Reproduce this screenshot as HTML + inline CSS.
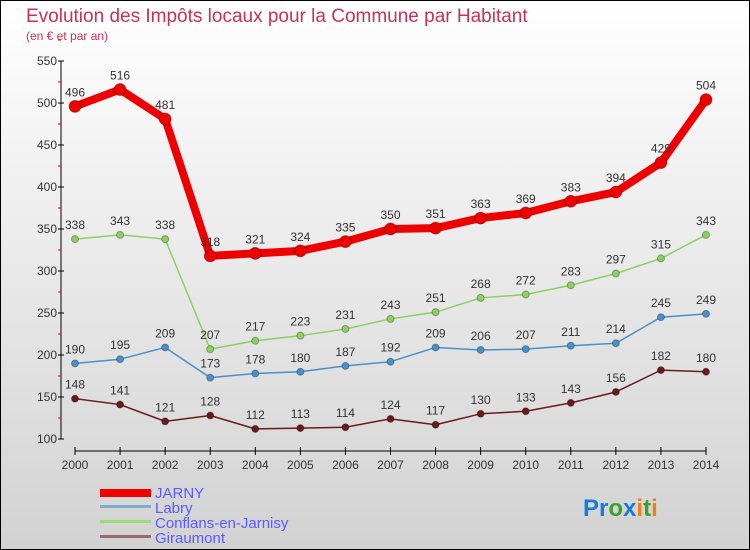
<!DOCTYPE html>
<html><head><meta charset="utf-8"><style>
body{margin:0;width:750px;height:550px;overflow:hidden}
svg{display:block;font-family:"Liberation Sans",sans-serif}
</style></head><body>
<svg id="c" width="750" height="550">
<defs><linearGradient id="bg" x1="0" y1="0" x2="0" y2="1"><stop offset="0" stop-color="#ffffff"/><stop offset="1" stop-color="#d2d2d2"/></linearGradient></defs>
<rect x="0.5" y="0.5" width="749" height="549" fill="url(#bg)" stroke="#000"/>
<text x="26" y="22" font-size="19" fill="#c8305a">Evolution des Impôts locaux pour la Commune par Habitant</text>
<text x="26" y="40" font-size="12" fill="#c8305a">(en € et par an)</text>
<g id="axes"></g><g id="series"></g>
<g>
<rect x="100" y="489" width="51" height="8" fill="#ee0000"/>
<text x="155" y="498" font-size="15" fill="#5b5bff">JARNY</text>
<rect x="100" y="505" width="51" height="3" fill="#80acd0"/>
<text x="155" y="513" font-size="15" fill="#5b5bff">Labry</text>
<rect x="100" y="520" width="51" height="3" fill="#9cdc78"/>
<text x="155" y="528" font-size="15" fill="#5b5bff">Conflans-en-Jarnisy</text>
<rect x="100" y="535" width="51" height="3" fill="#9a6a6a"/>
<text x="155" y="543" font-size="15" fill="#5b5bff">Giraumont</text>
</g>
<text x="583" y="516" font-size="24" font-weight="bold"><tspan fill="#1a7ad8">Pr</tspan><tspan fill="#3aa030">o</tspan><tspan fill="#1a7ad8">x</tspan><tspan fill="#f08010">i</tspan><tspan fill="#3aa030">t</tspan><tspan fill="#f08010">i</tspan></text>
</svg>
<script>
const years=[2000,2001,2002,2003,2004,2005,2006,2007,2008,2009,2010,2011,2012,2013,2014];
const yTicks=[100,150,200,250,300,350,400,450,500,550];
const jarny=[496,516,481,318,321,324,335,350,351,363,369,383,394,429,504];
const labry=[190,195,209,173,178,180,187,192,209,206,207,211,214,245,249];
const conflans=[338,343,338,207,217,223,231,243,251,268,272,283,297,315,343];
const giraumont=[148,141,121,128,112,113,114,124,117,130,133,143,156,182,180];
const NS='http://www.w3.org/2000/svg';
const X=i=>75+i*(706-75)/14, Y=v=>439-(v-100)*(439-61)/450;
function mk(t,a,p){const e=document.createElementNS(NS,t);for(const k in a)e.setAttribute(k,a[k]);p.appendChild(e);return e;}
const ax=document.getElementById('axes');
let yl=mk('line',{x1:61,y1:61,x2:61,y2:439,stroke:'#000'},ax);


let xl=mk('line',{x1:75,y1:451,x2:706,y2:451,stroke:'#000'},ax);


yTicks.forEach(v=>{mk('line',{x1:58,y1:Y(v),x2:64,y2:Y(v),stroke:'#000'},ax);
 mk('line',{x1:58,y1:Y(v+25),x2:61,y2:Y(v+25),stroke:'#e00'},ax);
 const t=mk('text',{x:57,y:Y(v)+4,'font-size':12,'text-anchor':'end',fill:'#333'},ax);t.textContent=v;
 
 });
years.forEach((y,i)=>{mk('line',{x1:X(i),y1:447,x2:X(i),y2:455,stroke:'#000'},ax);
 const t=mk('text',{x:X(i),y:469,'font-size':12,'text-anchor':'middle',fill:'#333'},ax);t.textContent=y;
 
 });
const sg=document.getElementById('series');
function series(d,name,col,w,r){const g=mk('g',{},sg);
 
 
 mk('polyline',{points:d.map((v,i)=>X(i)+','+Y(v)).join(' '),fill:'none',stroke:col,'stroke-width':w,'stroke-linejoin':'round'},g);
 d.forEach((v,i)=>{const c=mk('circle',{cx:X(i),cy:Y(v),r:r,fill:col,stroke:'rgba(0,0,0,0.3)'},g);
  
  
  const t=mk('text',{x:X(i),y:Y(v)-10,'font-size':12,'text-anchor':'middle',fill:'#333'},g);t.textContent=v;
  
  });}
series(giraumont,'giraumont','#6a1a1a',1.5,3.5);
series(labry,'labry','#4a90c8',1.5,3.5);
series(conflans,'conflans','#8cd060',1.5,3.5);
series(jarny,'jarny','#ee0000',8,6);
</script>
</body></html>
